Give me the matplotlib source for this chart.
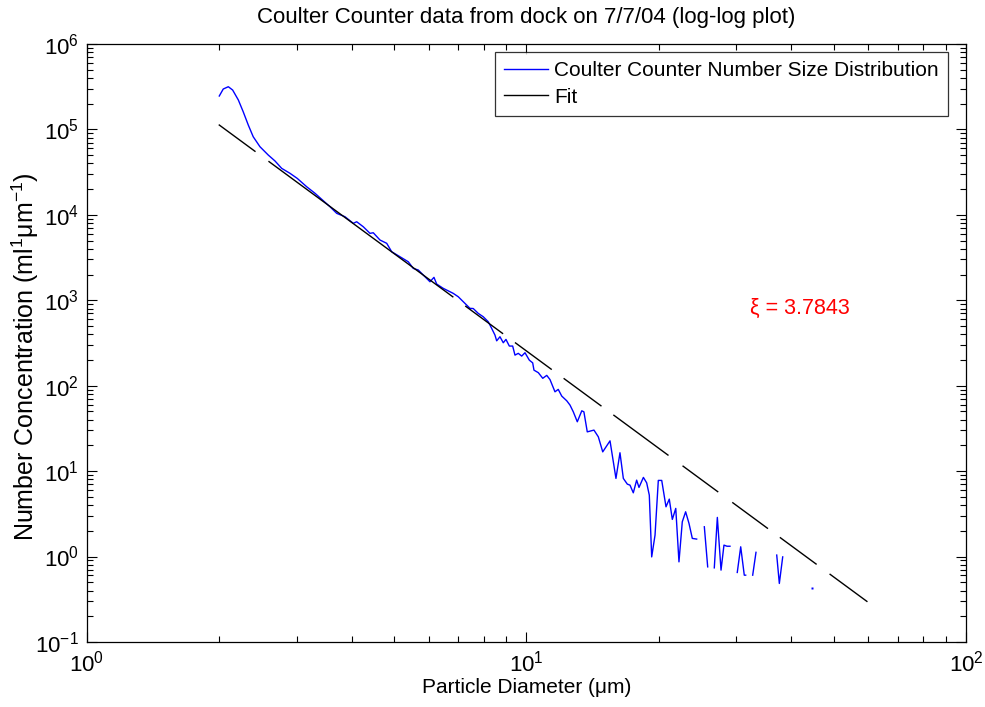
import numpy as np
import matplotlib
matplotlib.use("Agg")
import matplotlib.pyplot as plt
from matplotlib.ticker import LogLocator, NullFormatter

plt.rcParams['font.family'] = ['Liberation Sans', 'DejaVu Sans']
plt.rcParams['mathtext.fontset'] = 'custom'
plt.rcParams['mathtext.rm'] = 'Liberation Sans'
plt.rcParams['mathtext.it'] = 'Liberation Sans:italic'
plt.rcParams['mathtext.default'] = 'regular'

nan = np.nan

# Measured number size distribution (particle diameter in um, concentration)
diameter = [2.000, 2.042, 2.097, 2.145, 2.210, 2.267, 2.328, 2.389, 2.475, 2.585,
            2.678, 2.773, 2.897, 3.009, 3.162, 3.303, 3.572, 3.700, 3.864, 4.036,
            4.108, 4.253, 4.405, 4.481, 4.642, 4.808, 4.935, 5.155, 5.384, 5.526,
            5.673, 5.875, 6.031, 6.159, 6.247, 6.466, 6.697, 6.813, 6.995, 7.181,
            7.437, 7.566, 7.766, 7.973, 8.185, 8.332, 8.478, 8.554, 8.703, 8.855,
            8.981, 9.140, 9.302, 9.415, 9.579, 9.752, 9.922, 10.15, 10.33, 10.40,
            10.64, 10.89, 11.12, 11.31, 11.61, 11.81, 12.03, 12.35, 12.56, 12.78,
            13.05, 13.36, 13.51, 13.75, 14.24, 14.57, 14.91, 15.49, 15.98, 16.32,
            16.61, 16.96, 17.20, 17.50, 17.81, 18.03, 18.45, 18.77, 19.03, 19.27,
            19.61, 19.95, 20.31, 20.77, 21.13, 21.47, 21.86, 22.23, 22.62, 23.02,
            23.43, 23.84, 24.39, 24.89, 25.39, 25.84, 26.29, 26.75, 27.18, 27.71,
            28.14, 28.59, 29.04, 29.60, 30.17, 30.72, 31.30, 31.53, 32.11, 32.71,
            33.28, 35.07, 37.10, 37.61, 38.28, 41.27, 44.56, 46.00]
concentration = [2.46e5, 2.97e5, 3.16e5, 2.89e5, 2.21e5, 1.61e5, 1.126e5, 8.21e4, 6.27e4, 5.01e4,
                 4.27e4, 3.50e4, 3.06e4, 2.67e4, 2.13e4, 1.785e4, 1.244e4, 1.041e4, 9.50e3, 7.95e3,
                 8.30e3, 7.25e3, 6.07e3, 6.17e3, 5.07e3, 4.64e3, 3.70e3, 3.23e3, 2.82e3, 2.36e3,
                 2.26e3, 1.884e3, 1.647e3, 1.854e3, 1.547e3, 1.378e3, 1.257e3, 1.204e3, 1.099e3, 960,
                 804, 800, 702, 641, 560, 469, 391, 335, 374, 318,
                 348, 291, 291, 228, 239, 222, 243, 199, 185, 152,
                 142, 122, 132, 118, 84.8, 90.5, 75.5, 66.5, 59.3, 49.4,
                 37.8, 50.8, 49.4, 28.8, 30.2, 25.2, 16.8, 22.6, 8.21, 16.4,
                 8.21, 7.04, 6.85, 5.57, 7.84, 6.44, 8.44, 7.29, 5.23, 0.99,
                 1.78, 7.78, 7.78, 3.82, 4.70, 2.72, 3.66, 0.866, 2.55, 3.34,
                 2.44, 1.63, 1.60, nan, 2.23, 0.757, nan, 0.737, 2.87, 0.693,
                 1.36, 1.32, 1.32, nan, 0.651, 1.30, 0.605, 0.605, nan, 0.605,
                 1.12, nan, 1.04, 0.484, 0.99, nan, 0.423, nan]

# Power-law fit
xi = 3.7843
fit_amplitude = 1.55e6
fit_range = [2.0, 59.5]
fit_gaps = [(2.424, 2.595), (6.804, 7.245), (8.844, 9.415), (11.43, 12.17),
            (14.77, 15.73), (21.10, 22.59), (27.27, 29.36), (35.43, 37.74),
            (45.81, 49.05)]

fig = plt.figure(figsize=(9.85, 7.07), dpi=100)
ax = fig.add_axes([0.0883, 0.092, 0.8924, 0.8458])

x = np.array(diameter)
y = np.array(concentration)
ax.plot(x, y, color=(0, 0, 1), lw=1.0, label='Coulter Counter Number Size Distribution')
valid = ~np.isnan(y)
prev_ok = np.r_[False, valid[:-1]]
next_ok = np.r_[valid[1:], False]
iso = valid & ~prev_ok & ~next_ok
ax.plot(x[iso], y[iso], ls='none', marker='s', ms=2, color=(0, 0, 1), mec='none')

xf = np.geomspace(fit_range[0], fit_range[1], 600)
yf = fit_amplitude * xf ** (-xi)
for a, b in fit_gaps:
    yf[(xf > a) & (xf < b)] = np.nan
ax.plot(xf, yf, color='black', lw=1.0, label='Fit')

ax.set_xscale('log')
ax.set_yscale('log')
ax.set_xlim(1, 100)
ax.set_ylim(1e-1, 1e6)
ax.xaxis.set_major_locator(LogLocator(base=10, numticks=10))
ax.yaxis.set_major_locator(LogLocator(base=10, numticks=10))
ax.xaxis.set_minor_locator(LogLocator(base=10, subs=np.arange(2, 10), numticks=20))
ax.yaxis.set_minor_locator(LogLocator(base=10, subs=np.arange(2, 10), numticks=20))
ax.xaxis.set_minor_formatter(NullFormatter())
ax.yaxis.set_minor_formatter(NullFormatter())
ax.tick_params(which='both', direction='in', top=True, right=True, labelsize=16, width=0.8)
ax.tick_params(which='major', length=7, pad=6)
ax.tick_params(which='minor', length=4)
for s in ax.spines.values():
    s.set_linewidth(0.9)

ax.set_title('Coulter Counter data from dock on 7/7/04 (log-log plot)', fontsize=16, pad=15)
ax.set_xlabel('Particle Diameter (\u03bcm)', fontsize=15, labelpad=1)
ax.set_ylabel('Number Concentration (ml$^{1}$\u03bcm$^{-1}$)', fontsize=18)
ax.yaxis.set_label_coords(-0.052, 0.477)

ax.text(32.3, 810, '\u03be = 3.7843', color='red', fontsize=15.5, va='center', ha='left')

leg = ax.legend(loc='upper right', bbox_to_anchor=(948 / 985, 1 - 52 / 707),
                bbox_transform=fig.transFigure, fontsize=15, frameon=True, fancybox=False,
                edgecolor='black', borderaxespad=0.0, handlelength=2.1,
                borderpad=0.45, labelspacing=0.35, handletextpad=0.3)
leg.get_frame().set_linewidth(0.9)

fig.savefig('out.png', dpi=100, facecolor='white')
